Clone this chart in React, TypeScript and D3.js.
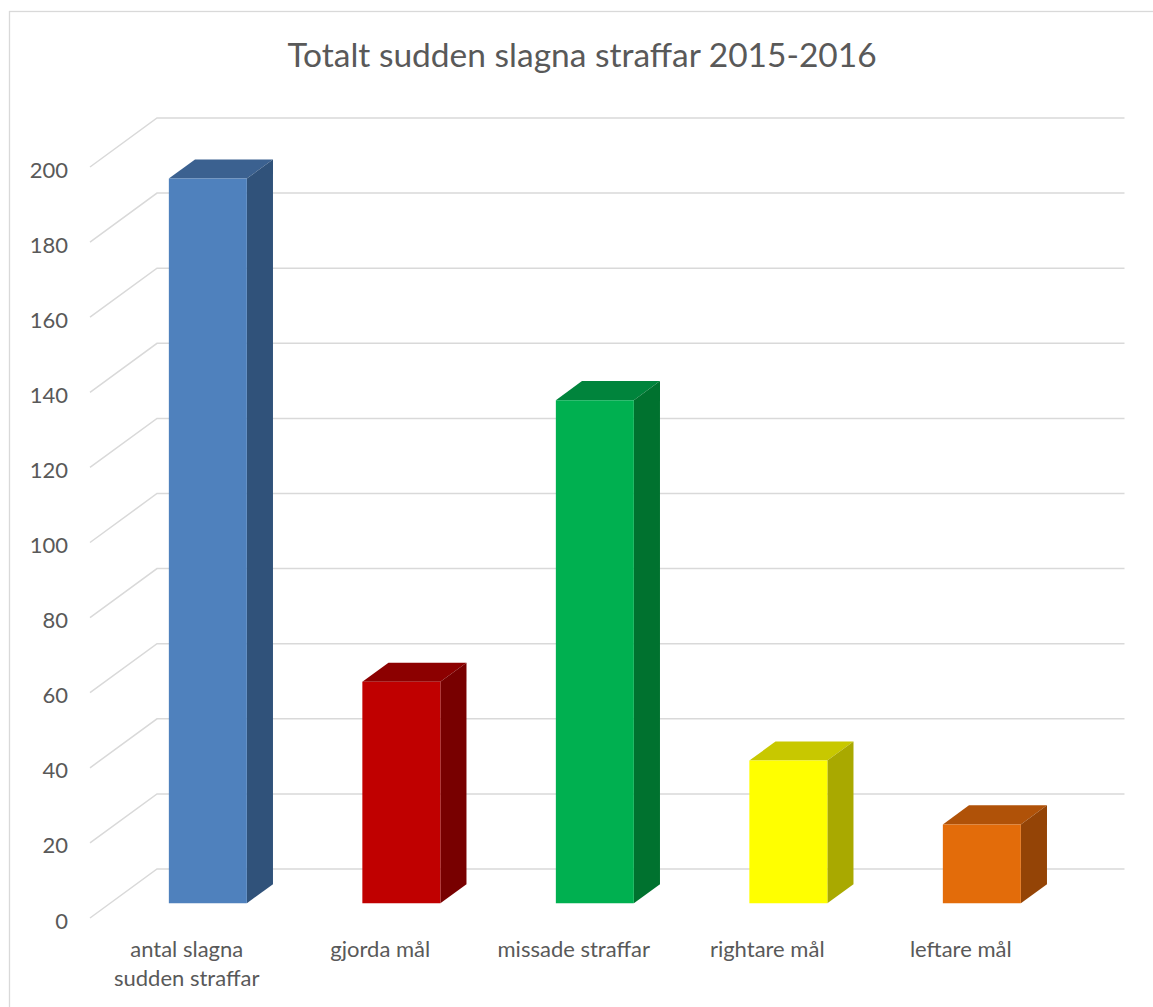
import React from "react";
import * as d3 from "d3";

const categories: string[][] = [
  ["antal slagna", "sudden straffar"],
  ["gjorda mål"],
  ["missade straffar"],
  ["rightare mål"],
  ["leftare mål"],
];
const values: number[] = [193, 59, 134, 38, 21];
const yTicks: number[] = [0, 20, 40, 60, 80, 100, 120, 140, 160, 180, 200];
const title = "Totalt sudden slagna straffar 2015-2016";

const palette = [
  { front: "#4F81BD", top: "#3B6190", side: "#30527A" },
  { front: "#C00000", top: "#8C0000", side: "#780000" },
  { front: "#00B050", top: "#00843C", side: "#00722F" },
  { front: "#FFFF00", top: "#C8C800", side: "#A9A900" },
  { front: "#E36C0A", top: "#B05208", side: "#944406" },
];

const W = 1153;
const H = 1007;
const FONT = "Lato, 'Open Sans', sans-serif";
const TEXT = "#595959";
const GRID = "#d9d9d9";

// oblique depth vector (front floor edge -> back wall)
const DX = 67;
const DY = -49;
const T1 = 0.3; // bar front depth fraction
const T2 = 0.69; // bar back depth fraction

export default function App() {
  const x = d3
    .scaleBand<number>()
    .domain(d3.range(categories.length))
    .range([90, 1057.5])
    .paddingInner(0)
    .paddingOuter(0);
  const y = d3.scaleLinear().domain([0, 200]).range([918, 918 - 751]);

  const barW = 78;
  const bw = x.bandwidth();
  const fdx = DX * T1;
  const fdy = DY * T1;
  const ddx = DX * (T2 - T1);
  const ddy = DY * (T2 - T1);

  const pts = (p: [number, number][]) => p.map((q) => q.join(",")).join(" ");

  return (
    <svg
      width={W}
      height={H}
      style={{ position: "absolute", left: 0, top: 0, display: "block" }}
    >
      <rect x={0} y={0} width={W} height={H} fill="#ffffff" />
      <rect
        x={9.5}
        y={11.5}
        width={W + 20}
        height={H + 20}
        fill="none"
        stroke={GRID}
        strokeWidth={1.3}
      />
      <text
        x={582}
        y={67}
        textAnchor="middle"
        fontFamily={FONT}
        fontSize={33.5}
        fill={TEXT}
      >
        {title}
      </text>

      {/* gridlines */}
      {yTicks.map((t) => {
        const yf = y(t);
        const x0 = x.range()[0];
        const x1 = x.range()[1];
        return (
          <path
            key={"g" + t}
            d={`M${x0},${yf} L${x0 + DX},${yf + DY} L${x1 + DX},${yf + DY}`}
            fill="none"
            stroke={GRID}
            strokeWidth={1.5}
          />
        );
      })}

      {/* y labels */}
      {yTicks.map((t) => (
        <text
          key={"yl" + t}
          x={68}
          y={y(t) + 2}
          textAnchor="end"
          dominantBaseline="central"
          fontFamily={FONT}
          fontSize={22}
          fill={TEXT}
        >
          {t}
        </text>
      ))}

      {/* bars */}
      {values.map((v, i) => {
        const c = palette[i];
        const x0 = (x(i) as number) + (bw - barW) / 2 + fdx + 1;
        const x1 = x0 + barW;
        const yb = y(0) + fdy;
        const yt = y(v) + fdy;
        return (
          <g key={"b" + i}>
            <polygon
              points={pts([
                [x0, yt],
                [x1, yt],
                [x1 + ddx, yt + ddy],
                [x0 + ddx, yt + ddy],
              ])}
              fill={c.top}
            />
            <polygon
              points={pts([
                [x1, yb],
                [x1, yt],
                [x1 + ddx, yt + ddy],
                [x1 + ddx, yb + ddy],
              ])}
              fill={c.side}
            />
            <polygon
              points={pts([
                [x0, yb],
                [x1, yb],
                [x1, yt],
                [x0, yt],
              ])}
              fill={c.front}
            />
          </g>
        );
      })}

      {/* category labels */}
      {categories.map((lines, i) => (
        <text
          key={"c" + i}
          x={(x(i) as number) + bw / 2}
          y={957}
          textAnchor="middle"
          fontFamily={FONT}
          fontSize={22}
          fill={TEXT}
        >
          {lines.map((l, j) => (
            <tspan key={j} x={(x(i) as number) + bw / 2} dy={j === 0 ? 0 : 29}>
              {l}
            </tspan>
          ))}
        </text>
      ))}
    </svg>
  );
}
